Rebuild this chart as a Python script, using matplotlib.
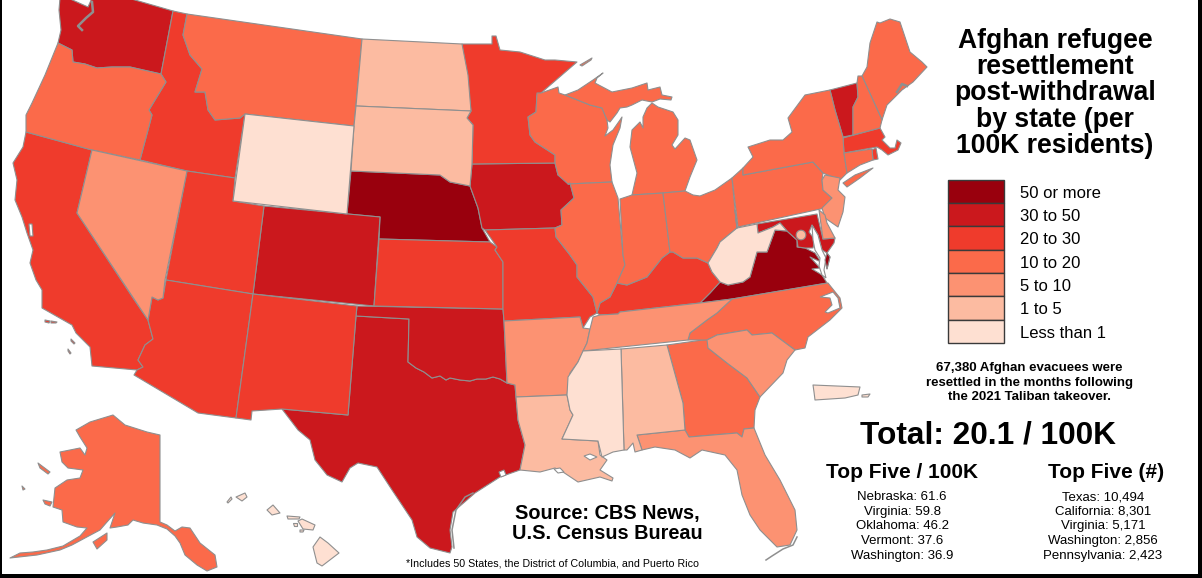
import matplotlib
matplotlib.use("Agg")
import matplotlib.pyplot as plt
from matplotlib.patches import Polygon, Circle, Rectangle

plt.rcParams['font.family'] = ['Liberation Sans', 'DejaVu Sans']

# --- legend bins
BIN_LABELS = ["50 or more", "30 to 50", "20 to 30", "10 to 20", "5 to 10", "1 to 5", "Less than 1"]
BIN_COLORS = ["#99000d", "#cb181d", "#ef3b2c", "#fb6a4a", "#fc9272", "#fcbba1", "#fee0d2"]

# --- outline traces (image pixel space)
WA = [(60,-2),(68,-2),(88,7),(92,-2),(128,-2),(173,11),(161,74),(130,67),(112,67),(97,68),(85,64),(73,62),(72,50),(64,46),(58,43),(61,30),(59,10)]
OR = [(58,43),(64,46),(72,50),(73,62),(85,64),(97,68),(112,67),(130,67),(161,74),(166,82),(155,100),(149,110),(152,115),(140,160),(92,150),(26,132),(26,115),(32,103),(45,75)]
CA = [(26,132),(92,150),(77,213),(133,298),(148,320),(153,339),(145,345),(138,360),(143,367),(137,370),(92,366),(90,347),(76,333),(72,325),(42,308),(42,290),(36,280),(30,263),(33,250),(27,233),(22,217),(15,200),(17,180),(13,163),(23,147)]
NV = [(92,150),(187,171),(165,280),(163,298),(158,300),(152,297),(148,320),(77,213)]
ID = [(173,11),(187,14),(183,35),(190,55),(202,69),(195,92),(205,92),(208,110),(215,120),(240,118),(245,114),(235,178),(187,171),(140,160),(152,115),(149,110),(155,100),(166,82),(161,74)]
MT = [(187,14),(362,39),(354,126),(245,114),(240,118),(215,120),(208,110),(205,92),(195,92),(202,69),(190,55),(183,35)]
WY = [(245,114),(354,126),(347,214),(233,201)]
UT = [(187,171),(235,178),(233,201),(264,206),(253,294),(166,280)]
CO = [(264,206),(380,217),(374,306),(253,294)]
NE = [(351,171),(440,175),(450,182),(470,186),(478,208),(482,228),(490,242),(379,239),(380,217),(347,214)]
ND = [(362,39),(462,44),(468,75),(471,111),(356,106)]
SD = [(356,106),(471,111),(467,118),(473,125),(472,164),(470,186),(450,182),(440,175),(351,171),(354,126)]
MN = [(462,44),(492,44),(492,36),(496,36),(500,50),(520,52),(545,60),(555,60),(577,62),(541,93),(537,95),(536,112),(528,117),(530,135),(535,142),(555,155),(555,163),(472,164),(473,125),(467,118),(471,111)]
IA = [(472,164),(555,163),(558,175),(570,183),(574,198),(561,210),(562,225),(555,228),(485,230),(482,228),(478,208),(470,186)]
MO = [(485,230),(555,228),(556,237),(570,255),(577,265),(577,277),(593,297),(597,313),(590,317),(583,328),(580,317),(504,321),(503,309),(503,262),(495,250),(497,247)]
KS = [(379,239),(490,242),(497,247),(495,250),(503,262),(503,309),(374,306)]
OK = [(357,306),(503,309),(504,321),(507,383),(500,379),(493,377),(486,379),(477,379),(470,381),(460,380),(450,378),(446,380),(440,376),(432,378),(424,372),(416,368),(408,362),(409,319),(356,316)]
TX = [(356,316),(409,319),(408,362),(416,368),(424,372),(432,378),(440,376),(446,380),(450,378),(460,380),(470,381),(477,379),(486,379),(493,377),(500,379),(507,383),(515,385),(518,420),(525,445),(520,470),(500,477),(475,493),(467,500),(453,512),(450,530),(452,547),(450,553),(430,548),(417,537),(412,520),(392,490),(377,467),(358,463),(350,468),(342,482),(327,475),(315,460),(310,440),(298,430),(282,409),(348,415)]
NM = [(253,294),(357,306),(356,316),(348,415),(282,409),(252,411),(251,420),(236,418)]
AZ = [(166,280),(253,294),(236,418),(198,413),(134,375),(137,370),(143,367),(138,360),(145,345),(153,339),(148,320),(152,297),(158,300),(163,298)]
AR = [(504,321),(580,317),(583,328),(590,329),(587,343),(578,362),(570,373),(567,395),(516,397),(515,385),(507,383)]
LA = [(516,397),(567,395),(570,410),(573,415),(562,439),(598,441),(600,455),(607,460),(600,470),(613,478),(612,481),(600,477),(578,482),(563,472),(555,468),(540,472),(520,470),(525,445),(518,420)]
MS = [(583,351),(621,349),(624,450),(613,452),(602,457),(598,441),(562,439),(573,415),(570,410),(567,395),(568,377),(578,362)]
AL = [(621,349),(667,345),(683,403),(685,430),(637,435),(642,450),(635,452),(633,443),(627,450),(624,450)]
GA = [(667,345),(710,339),(708,348),(727,363),(747,378),(760,397),(755,410),(754,428),(744,429),(742,437),(737,433),(689,437),(685,430),(683,403)]
FL = [(637,435),(685,430),(689,437),(737,433),(742,437),(744,429),(754,428),(765,455),(780,480),(795,510),(797,530),(790,545),(777,547),(760,530),(750,515),(742,495),(737,470),(725,455),(702,450),(690,458),(675,450),(655,447),(642,450)]
SC = [(707,340),(717,335),(747,330),(752,335),(772,333),(795,350),(787,360),(783,373),(760,397),(747,378),(727,363),(708,348)]
NC = [(732,299),(828,283),(840,298),(842,308),(830,320),(808,337),(805,348),(795,350),(772,333),(752,335),(747,330),(717,335),(707,340),(688,340),(690,333),(707,320),(717,313)]
TN = [(593,317),(600,315),(618,314),(620,312),(700,303),(732,299),(717,313),(707,320),(690,333),(688,340),(583,351),(587,343),(590,329)]
KY = [(600,303),(610,297),(617,283),(627,285),(647,277),(662,258),(670,252),(673,252),(683,258),(697,258),(708,263),(712,272),(720,282),(710,293),(700,303),(620,312),(618,314),(600,315),(597,313)]
IL = [(568,184),(612,182),(618,198),(623,255),(625,265),(617,283),(610,297),(600,303),(597,313),(593,297),(577,277),(577,265),(570,255),(556,237),(555,228),(562,225),(561,210),(574,198),(570,183)]
IN = [(620,199),(632,195),(663,193),(670,252),(662,258),(647,277),(627,285),(617,283),(625,265),(623,255)]
WI = [(537,93),(541,93),(558,87),(559,93),(565,95),(590,105),(602,108),(607,120),(608,128),(605,136),(613,130),(620,120),(622,117),(620,128),(613,145),(610,165),(612,182),(568,184),(558,175),(555,163),(555,155),(535,142),(530,135),(528,117),(536,112)]
MI_UP = [(565,95),(578,90),(593,80),(603,73),(597,78),(595,83),(612,92),(632,88),(647,83),(648,90),(660,87),(662,95),(672,97),(671,100),(660,99),(652,102),(642,100),(632,105),(627,107),(620,108),(617,113),(610,122),(607,120),(602,108),(590,105)]
MI_LP = [(632,195),(663,193),(685,191),(690,177),(697,160),(690,140),(685,138),(675,149),(672,145),(678,135),(678,120),(673,112),(658,107),(652,103),(647,108),(643,117),(643,128),(640,122),(632,130),(630,147),(637,173)]
ISLE_ROYALE = [(580,65),(592,58),(591,60),(582,66)]
OH = [(663,193),(685,191),(693,195),(700,196),(715,190),(732,178),(735,210),(737,228),(720,242),(717,248),(708,263),(697,258),(683,258),(673,252),(670,252)]
WV = [(735,210),(737,228),(757,224),(758,233),(773,227),(780,223),(787,231),(775,230),(767,252),(757,252),(750,277),(743,282),(728,285),(720,282),(712,272),(708,263),(717,248),(720,242),(737,228)]
PA = [(743,175),(813,162),(823,173),(822,180),(823,190),(832,198),(825,208),(738,227),(732,178),(743,168)]
NY = [(743,175),(743,168),(753,157),(748,147),(770,140),(783,140),(792,132),(788,118),(805,95),(830,90),(835,110),(843,137),(844,153),(847,173),(840,180),(823,173),(813,162)]
LONG_ISLAND = [(843,183),(855,175),(873,168),(860,178),(847,187)]
NJ = [(822,180),(825,175),(840,178),(838,190),(845,197),(843,212),(838,227),(825,218),(822,208),(832,198),(823,190)]
DE = [(819,210),(825,215),(827,223),(835,238),(823,239)]
MD = [(757,224),(817,214),(823,239),(835,238),(834,243),(827,253),(822,250),(818,235),(812,225),(809,232),(815,240),(813,248),(805,248),(798,247),(797,240),(787,231),(780,223),(773,227),(758,233)]
VA = [(700,303),(710,293),(720,282),(728,285),(743,282),(750,277),(757,252),(767,252),(775,230),(787,231),(797,240),(797,247),(805,248),(815,253),(821,262),(810,257),(820,268),(812,269),(822,275),(827,283),(732,299)]
VA_SHORE = [(827,253),(830,257),(827,269),(825,260)]
VT = [(830,90),(857,83),(858,97),(853,107),(853,135),(843,137),(835,110)]
NH = [(857,83),(858,76),(862,76),(882,120),(880,128),(853,135),(853,107),(858,97)]
ME = [(862,76),(867,67),(870,43),(877,22),(880,23),(890,19),(900,22),(910,52),(922,62),(927,67),(913,82),(902,90),(887,105),(882,120)]
MA = [(843,138),(880,128),(885,137),(882,140),(890,148),(895,148),(897,140),(901,143),(898,150),(888,155),(882,150),(877,147),(844,153)]
RI = [(872,150),(876,148),(878,159),(873,160)]
CT = [(844,153),(872,149),(873,160),(860,165),(847,173)]
AK = [(113,415),(125,425),(147,432),(160,435),(160,522),(167,525),(175,531),(182,527),(190,528),(200,543),(215,555),(217,567),(207,571),(197,565),(185,555),(180,543),(175,536),(167,529),(157,525),(143,523),(133,520),(128,525),(117,527),(110,528),(115,513),(107,522),(100,530),(85,538),(72,545),(60,550),(37,555),(10,558),(20,553),(33,552),(47,550),(63,546),(80,536),(87,528),(77,527),(63,522),(62,510),(53,507),(55,488),(67,480),(80,478),(83,470),(68,468),(62,462),(60,452),(80,448),(85,455),(87,448),(80,437),(76,430),(90,422)]
AK_KODIAK = [(93,542),(107,533),(107,540),(97,549)]
AK_NUNIVAK = [(43,500),(52,502),(50,506),(45,504)]
AK_LAWRENCE = [(38,463),(50,472),(48,474),(40,468)]
AK_MATTHEW = [(22,486),(25,489),(23,490)]
HI_BIG = [(313,547),(317,563),(322,566),(339,553),(328,543),(320,537)]
HI_MAUI = [(298,521),(302,519),(315,525),(313,530),(303,529)]
HI_OAHU = [(267,510),(273,505),(280,513),(272,515)]
HI_KAUAI = [(236,497),(245,493),(247,497),(242,501)]
HI_MOLOKAI = [(287,516),(300,517),(299,519),(288,519)]
HI_LANAI = [(293,523),(297,523),(297,526),(294,526)]
HI_KAHO = [(300,530),(304,530),(303,532),(300,532)]
HI_NIIHAU = [(227,502),(231,497),(232,499),(228,503)]
PR_MAIN = [(813,385),(860,387),(858,395),(845,398),(815,400),(814,392)]
PR_VIEQUES = [(862,395),(870,394),(868,397),(862,397)]
CA_ISL_A = [(45,320),(50,321),(49,323),(45,322)]
CA_ISL_B = [(51,321),(57,322),(56,323),(51,323)]
CA_ISL_C = [(71,339),(75,343),(74,344),(71,341)]
CA_ISL_D = [(68,349),(71,353),(70,354),(68,351)]

STATE_BINS = {
    0: [NE, VA, VA_SHORE],
    1: [WA, CO, TX, OK, IA, VT, MD],
    2: [CA, ID, UT, AZ, NM, KS, MN, MO, KY, MA, RI, CA_ISL_A, CA_ISL_B, CA_ISL_C, CA_ISL_D],
    3: [OR, MT, WI, MI_UP, MI_LP, ISLE_ROYALE, IL, IN, OH, PA, NY, LONG_ISLAND, ME, NH, CT, GA, NC, AK, AK_KODIAK, AK_NUNIVAK, AK_LAWRENCE, AK_MATTHEW],
    4: [NV, AR, TN, SC, FL, NJ, DE],
    5: [ND, SD, LA, AL],
    6: [WY, MS, WV, HI_BIG, HI_MAUI, HI_OAHU, HI_KAUAI, HI_MOLOKAI, HI_LANAI, HI_KAHO, HI_NIIHAU, PR_MAIN, PR_VIEQUES],
}
DC_CENTER = (801, 235)
DC_BIN = 5

# inland water and offshore lines
SF_BAY = [(29,224),(32,224),(33,236),(30,236)]
NC_SOUND = [(820,297),(833,292),(838,298),(840,308),(828,313),(825,312),(832,305),(830,298)]
CHES_BAY = [(812,225),(818,235),(822,250),(826,258),(824,270),(826,278),(822,275),(819,266),(820,258),(815,250),(813,240)]
PONTCHARTRAIN = [(584,456),(590,454),(597,457),(590,460)]
VERMILION = [(554,469),(560,468),(564,472),(558,473)]
GALVESTON = [(499,472),(504,470),(506,475),(501,477)]
TX_BARRIER = [(473,493),(465,497),(456,510),(452,530),(454,548)]
FL_KEYS = [(797,537),(793,545),(783,549),(772,556),(766,560)]
PUGET_SOUND = [(92,2),(93,12),(86,18),(78,26),(82,30)]
MAINE_ISLES = [(897,92),(902,84),(907,86)]

TITLE_LINES = ["Afghan refugee", "resettlement", "post-withdrawal", "by state (per", "100K residents)"]
NOTE_LINES = ["67,380 Afghan evacuees were", "resettled in the months following", "the 2021 Taliban takeover."]
TOTAL_TEXT = "Total: 20.1 / 100K"
RATE_HEADER = "Top Five / 100K"
COUNT_HEADER = "Top Five (#)"
RATE_STATES = ["Nebraska", "Virginia", "Oklahoma", "Vermont", "Washington"]
RATE_VALUES = ["61.6", "59.8", "46.2", "37.6", "36.9"]
COUNT_STATES = ["Texas", "California", "Virginia", "Washington", "Pennsylvania"]
COUNT_VALUES = ["10,494", "8,301", "5,171", "2,856", "2,423"]
SOURCE_LINES = ["Source: CBS News,", "U.S. Census Bureau"]
FOOTNOTE = "*Includes 50 States, the District of Columbia, and Puerto Rico"

EDGE = "#8f8f8f"
LW = 0.8

fig = plt.figure(figsize=(12.02, 5.78), dpi=100, facecolor="white")
ax = fig.add_axes([0, 0, 1, 1])
ax.set_xlim(0, 1202)
ax.set_ylim(578, 0)
ax.axis("off")

for b, shapes in STATE_BINS.items():
    for pts in shapes:
        ax.add_patch(Polygon(pts, closed=True, facecolor=BIN_COLORS[b], edgecolor=EDGE, linewidth=LW, joinstyle="round", zorder=2))
for pts in (SF_BAY, NC_SOUND, CHES_BAY, PONTCHARTRAIN, VERMILION, GALVESTON):
    ax.add_patch(Polygon(pts, closed=True, facecolor="white", edgecolor=EDGE, linewidth=LW, zorder=3))
ax.add_patch(Polygon(VA_SHORE, closed=True, facecolor=BIN_COLORS[0], edgecolor=EDGE, linewidth=LW, zorder=4))
ax.add_patch(Circle(DC_CENTER, 4.8, facecolor=BIN_COLORS[DC_BIN], edgecolor=EDGE, linewidth=LW, zorder=4))
for line, lw in ((TX_BARRIER, 1.1), (FL_KEYS, 1.1), (PUGET_SOUND, 1.8), (MAINE_ISLES, 1.8)):
    ax.plot(*zip(*line), color=EDGE, lw=lw, zorder=3)

# legend
top, step = 179.5, 23.35
for i, (lab, col) in enumerate(zip(BIN_LABELS, BIN_COLORS)):
    ax.add_patch(Rectangle((948, top + i * step), 56, step, facecolor=col, edgecolor="#3a3a3a", linewidth=1.0, zorder=5))
    ax.text(1020, top + i * step + step / 2 + 2.0, lab, fontsize=12, va="center", ha="left", color="black")

# title and text blocks
for line, y in zip(TITLE_LINES, [47.5, 73.5, 100, 127, 153]):
    ax.text(1055, y, line, fontsize=19.1, fontweight="bold", ha="center", va="baseline", color="black")
for line, y in zip(NOTE_LINES, [371, 386, 400]):
    ax.text(1029, y, line, fontsize=9.5, fontweight="bold", ha="center", va="baseline", color="black")
ax.text(988, 444, TOTAL_TEXT, fontsize=22.8, fontweight="bold", ha="center", va="baseline", color="black")
ax.text(902, 478, RATE_HEADER, fontsize=15, fontweight="bold", ha="center", va="baseline", color="black")
ax.text(1106, 478, COUNT_HEADER, fontsize=15, fontweight="bold", ha="center", va="baseline", color="black")
rows_y = [500, 515, 529, 544, 559]
for s, v, y in zip(RATE_STATES, RATE_VALUES, rows_y):
    ax.text(902, y, f"{s}: {v}", fontsize=9.5, ha="center", va="baseline", color="black")
for s, v, y in zip(COUNT_STATES, COUNT_VALUES, rows_y):
    ax.text(1103, y, f"{s}: {v}", fontsize=9.5, ha="center", va="baseline", color="black")
for line, y in zip(SOURCE_LINES, [519, 539]):
    ax.text(607, y, line, fontsize=14.3, fontweight="bold", ha="center", va="baseline", color="black")
ax.text(553, 567, FOOTNOTE, fontsize=7.7, ha="center", va="baseline", color="black")

# frame
for rect in [(0, 0, 2, 578), (1198, 0, 4, 578), (0, 574, 1202, 4)]:
    ax.add_patch(Rectangle(rect[:2], rect[2], rect[3], facecolor="black", edgecolor="none", zorder=10))

fig.savefig("out.png", dpi=100, facecolor="white")
